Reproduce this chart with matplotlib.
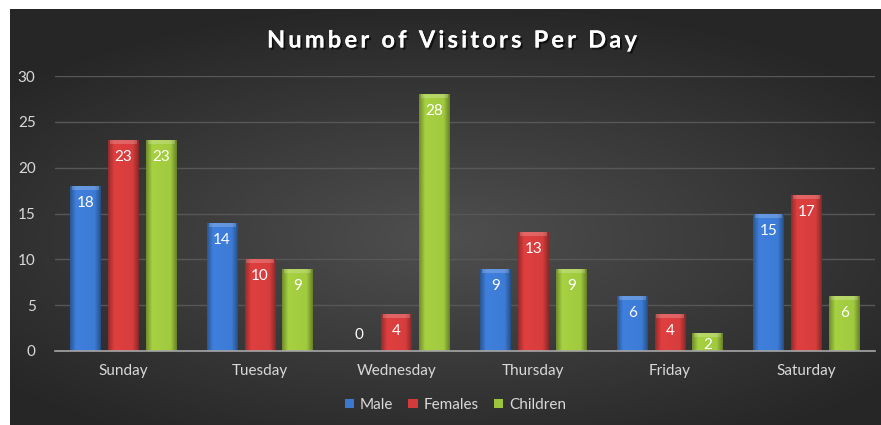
import numpy as np
import matplotlib
matplotlib.use("Agg")
import matplotlib.pyplot as plt
import matplotlib.patheffects as pe
from matplotlib.colors import to_rgb
from matplotlib.patches import Rectangle

plt.rcParams['font.family'] = ['Lato', 'DejaVu Sans']

days = ["Sunday", "Tuesday", "Wednesday", "Thursday", "Friday", "Saturday"]
male = [18, 14, 0, 9, 6, 15]
females = [23, 10, 4, 13, 4, 17]
children = [23, 9, 28, 9, 2, 6]
series_names = ["Male", "Females", "Children"]
series_colors = ["#3b78cf", "#d13b3b", "#9cc43d"]
y_ticks = [0, 5, 10, 15, 20, 25, 30]
title = "Number of Visitors Per Day"

fig = plt.figure(figsize=(8.81, 4.25), dpi=100)
fig.patch.set_facecolor("white")

# dark panel with a soft radial glow in the middle
bg = fig.add_axes([10 / 881, 0, 1 - 10 / 881, 1 - 9 / 425])
bg.set_axis_off()
gx, gy = np.meshgrid(np.linspace(-1, 1, 400), np.linspace(-1, 1, 200))
r = np.sqrt((gx * 0.95) ** 2 + ((gy - 0.1) * 1.1) ** 2)
glow = np.clip(1 - r / 1.25, 0, 1)
lvl = 0.15 + 0.16 * glow
bg.imshow(np.dstack([lvl, lvl, lvl]), aspect="auto", extent=[0, 1, 0, 1])
bg.set_xlim(0, 1)
bg.set_ylim(0, 1)

ax = fig.add_axes([55 / 881, 1 - 351 / 425, 820 / 881, 275 / 425])
ax.set_facecolor("none")

x = np.arange(len(days))
width = 0.226
step = 0.277
px_per_unit = 275 / 30


def shade(color):
    # horizontal bevel: darker edges, brighter face
    base = np.array(to_rgb(color))
    t = np.linspace(0, 1, 64)
    f = 0.72 + 0.36 * np.clip(np.minimum(t, 1 - t) / 0.2, 0, 1)
    f = f - 0.06 * t
    img = np.clip(base[None, :] * f[:, None], 0, 1)
    return img[None, :, :]


for i, (vals, name, col) in enumerate(zip([male, females, children], series_names, series_colors)):
    xs = x + (i - 1) * step
    bars = ax.bar(xs, vals, width, color=col, label=name, zorder=2, linewidth=0)
    img = shade(col)
    for b, v in zip(bars, vals):
        if v <= 0:
            continue
        x0, w = b.get_x(), b.get_width()
        im = ax.imshow(img, aspect="auto", extent=[x0, x0 + w, 0, v], zorder=3)
        im.set_clip_path(b)
        # lighter bevel along the top edge
        top = 4 / px_per_unit
        ax.add_patch(Rectangle((x0 + w * 0.06, v - top), w * 0.88, top,
                               facecolor="white", alpha=0.2, linewidth=0, zorder=4))
    for xv, v in zip(xs, vals):
        if v == 0:
            ly = 1.7
        else:
            ly = max(v - 17 / px_per_unit, 0.65)
        ax.text(xv, ly, str(v), ha="center", va="center", color="white",
                fontsize=11, zorder=5)

ax.set_xlim(-0.5, len(days) - 0.5)
ax.set_ylim(0, 30)
ax.set_yticks(y_ticks)
ax.set_xticks(x)
ax.set_xticklabels(days)
ax.tick_params(axis="both", length=0, colors="#d9d9d9", labelsize=11)
ax.tick_params(axis="y", pad=14)
ax.tick_params(axis="x", pad=9)
ax.yaxis.grid(True, color="#575757", linewidth=1, zorder=0)
ax.set_axisbelow(True)
for s in ["top", "right", "left"]:
    ax.spines[s].set_visible(False)
ax.spines["bottom"].set_color("#a6a6a6")
ax.spines["bottom"].set_linewidth(1.2)
ax.spines["bottom"].set_zorder(6)

# title with extra letter spacing, laid out one glyph at a time
renderer = fig.canvas.get_renderer()
tkw = dict(color="white", fontsize=17, fontweight="bold", va="center", ha="left",
           path_effects=[pe.withSimplePatchShadow(offset=(1.5, -1.5), shadow_rgbFace="black", alpha=0.6),
                         pe.Normal()])


def text_w(s):
    if not s:
        return 0.0
    t = fig.text(0, 0, s.replace(" ", "\u00a0"), **tkw)
    w = t.get_window_extent(renderer).width
    t.remove()
    return w


full_w = text_w(title)
target_w = 370
gap = (target_w - full_w) / (len(title) - 1)
start = 267
ty = 1 - 40 / 425
for k, ch in enumerate(title):
    if ch == " ":
        continue
    px = start + text_w(title[:k]) + k * gap
    fig.text(px / 881, ty, ch, **tkw)

ax.legend(loc="center", bbox_to_anchor=(0.517, 1 - 405 / 425), bbox_transform=fig.transFigure,
          ncol=3, frameon=False, fontsize=11, handlelength=0.6, handleheight=0.6,
          handletextpad=0.4, columnspacing=1.0, labelcolor="#d9d9d9")

fig.savefig("out.png", dpi=100, facecolor=fig.get_facecolor())
